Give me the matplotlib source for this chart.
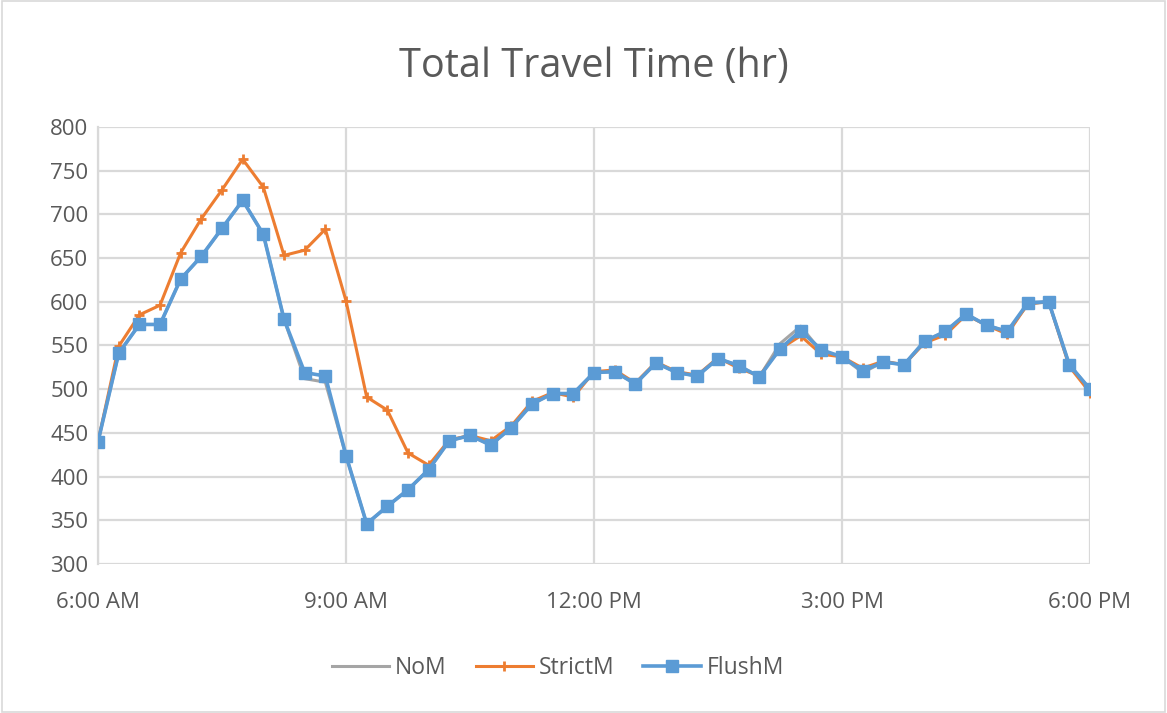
import matplotlib.pyplot as plt
import numpy as np

# 15-minute intervals from 6:00 AM to 6:00 PM (hours of day)
hours = np.arange(6, 18.01, 0.25)

nom = [440, 541, 574, 574, 626, 652, 684, 716, 677, 580, 512, 508, 424, 346, 366, 385,
       408, 441, 447, 436, 456, 483, 495, 495, 519, 520, 506, 530, 519, 515, 535, 527,
       514, 552, 572, 543, 537, 519, 531, 528, 555, 566, 586, 573, 566, 597, 600, 528, 500]
strictm = [440, 549, 585, 596, 656, 695, 728, 763, 731, 653, 659, 683, 601, 491, 476, 427,
           413, 442, 447, 441, 458, 486, 496, 491, 520, 522, 507, 531, 520, 516, 536, 524,
           515, 546, 561, 540, 537, 524, 532, 528, 553, 562, 585, 573, 563, 598, 600, 526, 496]
flushm = [440, 541, 574, 574, 626, 652, 684, 716, 677, 580, 519, 515, 424, 346, 366, 385,
          408, 441, 447, 436, 456, 483, 495, 495, 519, 520, 506, 530, 519, 515, 535, 527,
          514, 546, 567, 545, 537, 521, 531, 528, 555, 566, 586, 573, 566, 599, 600, 528, 500]

tick_pos = [6, 9, 12, 15, 18]
tick_labels = ["6:00 AM", "9:00 AM", "12:00 PM", "3:00 PM", "6:00 PM"]

plt.rcParams['font.family'] = ['Open Sans', 'DejaVu Sans']
txt = '#595959'
grid = '#d9d9d9'

fig = plt.figure(figsize=(11.67, 7.13), dpi=100)
ax = fig.add_axes([0.084, 0.209, 0.850, 0.613])

ax.plot(hours, nom, color='#a5a5a5', lw=2.2, label='NoM', zorder=2)
ax.plot(hours, strictm, color='#ed7d31', lw=2.2, marker='+', markersize=7,
        markeredgewidth=2, label='StrictM', zorder=3)
ax.plot(hours, flushm, color='#5b9bd5', lw=2.6, marker='s', markersize=9,
        label='FlushM', zorder=4)

ax.set_xlim(6, 18)
ax.set_ylim(300, 800)
ax.set_yticks(range(300, 801, 50))
ax.set_xticks(tick_pos)
ax.set_xticklabels(tick_labels)
ax.tick_params(colors=txt, labelsize=16, length=0)
ax.tick_params(axis='x', pad=20)
ax.tick_params(axis='y', pad=7)
ax.grid(True, color=grid, lw=1.6)
ax.set_axisbelow(True)
for s in ax.spines.values():
    s.set_visible(False)
ax.spines['left'].set_visible(True)
ax.spines['left'].set_color(grid)
ax.spines['left'].set_linewidth(1.6)

ax.set_title('Total Travel Time (hr)', fontsize=28.5, color=txt, pad=36)

fig.legend(loc='center', bbox_to_anchor=(0.478, 0.063), ncol=3, frameon=False,
           fontsize=16.5, labelcolor=txt, handlelength=2.5, handletextpad=0.26,
           columnspacing=1.27)

fig.patches.append(plt.Rectangle((0.002, 0.002), 0.996, 0.996, transform=fig.transFigure,
                                 fill=False, edgecolor=grid, lw=1.2))

fig.savefig('out.png', dpi=100)
